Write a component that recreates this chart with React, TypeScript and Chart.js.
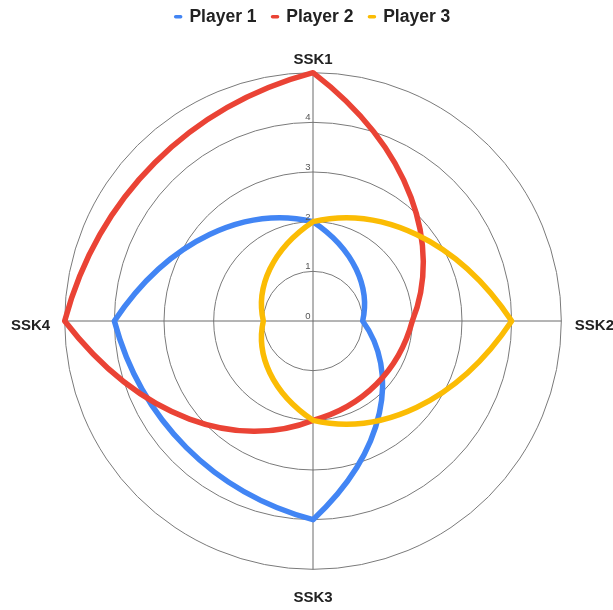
import { useEffect, useRef } from 'react';
import { Chart, registerables } from 'chart.js';

Chart.register(...registerables);

const categories = ['SSK1', 'SSK2', 'SSK3', 'SSK4'];
const seriesNames = ['Player 1', 'Player 2', 'Player 3'];
const player1 = [2, 1, 4, 4];
const player2 = [5, 2, 2, 5];
const player3 = [2, 4, 2, 1];
const seriesColors = ['#4285F4', '#EA4335', '#FBBC04'];
const tickLabels = ['0', '1', '2', '3', '4'];
const axisMin = 0;
const axisMax = 5;
const axisStep = 1;

const FONT = "'Liberation Sans', Arial, sans-serif";
const labelPadding = [4, 13.5, 20, 14.5];
const labelShiftY = [0, 5, 0, 5];

// Draw tick labels left of the vertical axis, just above each ring.
const tickLabelPlugin = {
  id: 'customTickLabels',
  afterLayout(chart: any) {
    const scale = chart.scales.r;
    const items = scale && scale._pointLabelItems;
    if (!items) return;
    items.forEach((it: any, i: number) => {
      const s = labelShiftY[i] || 0;
      it.y += s;
      it.top += s;
      it.bottom += s;
    });
  },
  afterDatasetsDraw(chart: any) {
    const scale = chart.scales.r;
    const ctx = chart.ctx;
    ctx.save();
    ctx.font = `9.5px ${FONT}`;
    ctx.fillStyle = '#555555';
    ctx.textAlign = 'right';
    ctx.textBaseline = 'alphabetic';
    tickLabels.forEach((t) => {
      const d = scale.getDistanceFromCenterForValue(Number(t));
      ctx.fillText(t, scale.xCenter - 2.5, scale.yCenter - d - 2);
    });
    ctx.restore();
  },
};

// Place each segment's Bezier control points along the polar path between
// the two data values (one third and two thirds of the way round).
const polarCurvePlugin = {
  id: 'polarCurve',
  beforeDatasetsDraw(chart: any) {
    const scale = chart.scales.r;
    chart.data.datasets.forEach((ds: any, di: number) => {
      const meta = chart.getDatasetMeta(di);
      const line = meta.dataset;
      const pts = meta.data;
      if (!line || !pts || !pts.length) return;
      line.updateControlPoints(chart.chartArea, 'r');
      const vals = ds.data as number[];
      const n = vals.length;
      for (let i = 0; i < n; i++) {
        const j = (i + 1) % n;
        const a = vals[i];
        const b = vals[j];
        const c1 = scale.getPointPosition(i + 1 / 3, scale.getDistanceFromCenterForValue(a + (b - a) / 3));
        const c2 = scale.getPointPosition(i + 2 / 3, scale.getDistanceFromCenterForValue(a + (2 * (b - a)) / 3));
        pts[i].cp2x = c1.x;
        pts[i].cp2y = c1.y;
        pts[j].cp1x = c2.x;
        pts[j].cp1y = c2.y;
      }
      line._path = undefined;
    });
  },
};

export default function App() {
  const canvasRef = useRef<HTMLCanvasElement | null>(null);

  useEffect(() => {
    const canvas = canvasRef.current;
    if (!canvas) return;
    const seriesData = [player1, player2, player3];
    const chart = new Chart(canvas, {
      type: 'radar',
      data: {
        labels: categories,
        datasets: seriesNames.map((name, i) => ({
          label: name,
          data: seriesData[i],
          borderColor: seriesColors[i],
          backgroundColor: 'transparent',
          borderWidth: 5.5,
          pointRadius: 0,
          pointHoverRadius: 0,
          tension: 0.4,
          fill: false,
          borderJoinStyle: 'round' as const,
          order: seriesNames.length - i,
        })),
      },
      options: {
        responsive: false,
        animation: false,
        layout: { padding: { top: -8, left: 11, right: 0, bottom: 0 } },
        plugins: {
          tooltip: { enabled: false },
          legend: {
            position: 'top',
            labels: {
              usePointStyle: true,
              pointStyleWidth: 5,
              padding: 16,
              color: '#222222',
              font: { family: FONT, size: 17.5, weight: 'bold' },
              generateLabels: (c: any) =>
                c.data.datasets.map((ds: any, i: number) => ({
                  text: ds.label,
                  fillStyle: seriesColors[i],
                  strokeStyle: seriesColors[i],
                  fontColor: '#222222',
                  lineWidth: 3.5,
                  lineCap: 'round',
                  pointStyle: 'line',
                  hidden: false,
                  datasetIndex: i,
                })),
            },
          },
        },
        scales: {
          r: {
            min: axisMin,
            max: axisMax,
            ticks: { display: false, stepSize: axisStep },
            grid: { color: '#7a7a7a', lineWidth: 1, circular: true },
            angleLines: { color: '#6a6a6a', lineWidth: 1 },
            pointLabels: {
              color: '#222222',
              font: { family: FONT, size: 15, weight: 'bold' },
              padding: (ctx: any) => labelPadding[ctx.index],
            },
          },
        },
      },
      plugins: [polarCurvePlugin, tickLabelPlugin],
    });
    return () => chart.destroy();
  }, []);

  return (
    <div
      style={{
        position: 'fixed',
        left: 0,
        top: 0,
        width: 613,
        height: 610,
        overflow: 'hidden',
        background: '#ffffff',
      }}
    >
      <canvas
        ref={canvasRef}
        width={615}
        height={623}
        style={{ display: 'block', width: 615, height: 623 }}
      />
    </div>
  );
}
